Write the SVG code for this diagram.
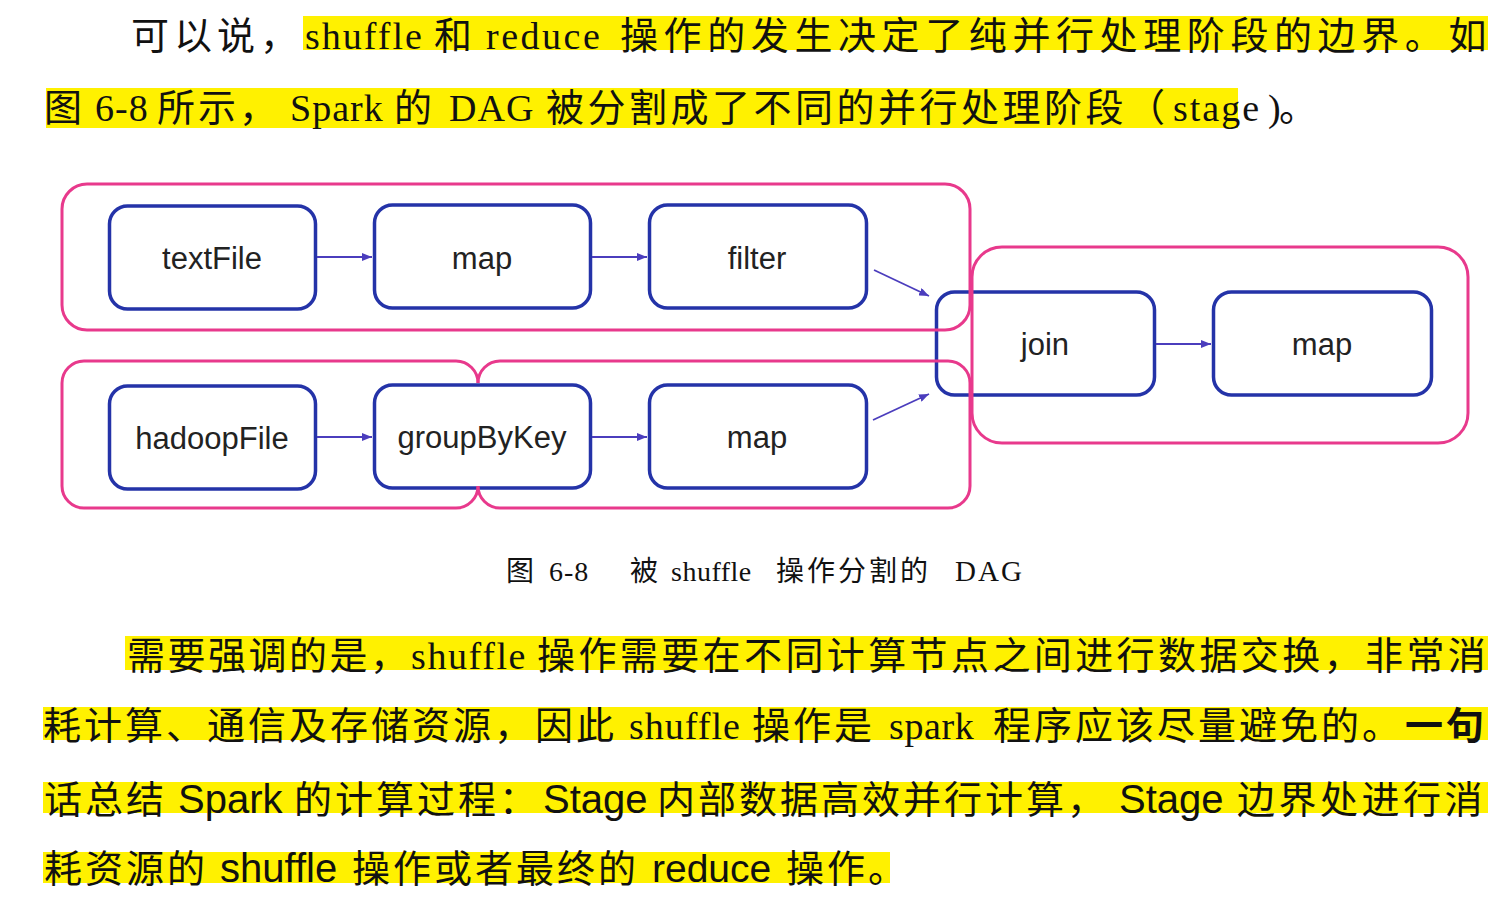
<svg xmlns="http://www.w3.org/2000/svg" width="1506" height="904" viewBox="0 0 1506 904">
<defs>
<style>
.hl{fill:#fff100}
.serif{font-family:'Liberation Serif','Noto Sans CJK SC',serif;font-size:38px;fill:#111}
.sans{font-family:'Liberation Sans','Noto Sans CJK SC',sans-serif;font-size:38px;fill:#111}
.node rect{fill:#fff;stroke:#2433a8;stroke-width:3.5}
.node text{font-family:'Liberation Sans','Noto Sans',sans-serif;font-size:31px;fill:#222;text-anchor:middle}
.stage{fill:none;stroke:#e8398c;stroke-width:3}
.conn line{stroke:#4b3dbd;stroke-width:1.8;marker-end:url(#ah)}
.l3{letter-spacing:3px}
</style>
<marker id="ah" markerUnits="userSpaceOnUse" markerWidth="11" markerHeight="8" refX="10" refY="4" orient="auto">
<path d="M0,0 L10,4 L0,8 z" fill="#4b3dbd"/>
</marker>
</defs>
<rect width="1506" height="904" fill="#fff"/>
<g id="highlights">
<rect class="hl" x="303" y="16" width="1185" height="34"/>
<rect class="hl" x="46" y="88" width="1192" height="40"/>
<rect class="hl" x="125" y="636" width="1363" height="34"/>
<rect class="hl" x="43" y="707" width="1445" height="33"/>
<rect class="hl" x="43" y="782" width="1445" height="31"/>
<rect class="hl" x="43" y="852" width="847" height="31"/>
</g>
<g id="paragraph-top">
<text class="serif" y="49"><tspan x="131" style="letter-spacing:5px">可以说，</tspan><tspan x="305" style="letter-spacing:2px">shuffle</tspan><tspan x="434">和</tspan><tspan x="486" style="letter-spacing:2.5px">reduce</tspan><tspan x="620" style="letter-spacing:5.6px">操作的发生决定了纯并行处理阶段的边界。如</tspan></text>
<text class="serif" y="121"><tspan x="44">图</tspan><tspan x="95" style="letter-spacing:1px">6-8</tspan><tspan x="157" class="l3">所示，</tspan><tspan x="290" style="letter-spacing:1px">Spark</tspan><tspan x="394">的</tspan><tspan x="449" style="letter-spacing:1px">DAG</tspan><tspan x="546" style="letter-spacing:3.5px">被分割成了不同的并行处理阶段</tspan><tspan x="1127">（</tspan><tspan x="1173" style="letter-spacing:2px">stage</tspan><tspan x="1268">)</tspan><tspan x="1279">。</tspan></text>
</g>
<g id="stage-nodes">
<g id="node-textFile" class="node"><rect x="109.5" y="206" width="206" height="103" rx="18"/><text x="212" y="269">textFile</text></g>
<g id="node-map1" class="node"><rect x="374.5" y="205" width="216" height="103" rx="18"/><text x="482" y="269">map</text></g>
<g id="node-filter" class="node"><rect x="649.5" y="205" width="217" height="103" rx="18"/><text x="757" y="269">filter</text></g>
<g id="node-hadoopFile" class="node"><rect x="109.5" y="386" width="206" height="103" rx="18"/><text x="212" y="449">hadoopFile</text></g>
<g id="node-groupByKey" class="node"><rect x="374.5" y="385" width="216" height="103" rx="18"/><text x="482" y="448">groupByKey</text></g>
<g id="node-map3" class="node"><rect x="649.5" y="385" width="217" height="103" rx="18"/><text x="757" y="448">map</text></g>
<g id="node-join" class="node"><rect x="936.5" y="292" width="218" height="103" rx="18"/><text x="1045" y="355">join</text></g>
<g id="node-map2" class="node"><rect x="1213.5" y="292" width="218" height="103" rx="18"/><text x="1322" y="355">map</text></g>
</g>
<g id="stages">
<rect id="stage-top" class="stage" x="62" y="184" width="908" height="146" rx="25"/>
<path id="stage-bottom-left" class="stage" d="M478,383 A22,22 0 0 0 456,361 H84 A22,22 0 0 0 62,383 V486 A22,22 0 0 0 84,508 H456 A22,22 0 0 0 478,486"/>
<path id="stage-bottom-right" class="stage" d="M478,383 A22,22 0 0 1 500,361 H948 A22,22 0 0 1 970,383 V486 A22,22 0 0 1 948,508 H500 A22,22 0 0 1 478,486"/>
<rect id="stage-right" class="stage" x="972" y="247" width="496" height="196" rx="30"/>
</g>
<g id="connectors" class="conn">
<line x1="317" y1="257" x2="372" y2="257"/>
<line x1="592" y1="257" x2="647" y2="257"/>
<line x1="317" y1="437" x2="372" y2="437"/>
<line x1="592" y1="437" x2="647" y2="437"/>
<line x1="1156" y1="344" x2="1211" y2="344"/>
<line x1="874" y1="270" x2="929" y2="296"/>
<line x1="873" y1="420" x2="929" y2="394"/>
</g>
<g id="caption">
<text class="serif" y="581" style="font-size:28px"><tspan x="506">图</tspan><tspan x="549" style="letter-spacing:1px">6-8</tspan><tspan x="630">被</tspan><tspan x="671" style="letter-spacing:0.5px">shuffle</tspan><tspan x="776" style="letter-spacing:3px">操作分割的</tspan><tspan x="955" style="letter-spacing:2px;font-size:29px">DAG</tspan></text>
</g>
<g id="paragraph-bottom">
<text class="serif" y="669"><tspan x="127" style="letter-spacing:2.5px">需要强调的是，</tspan><tspan x="411" style="letter-spacing:1.6px">shuffle</tspan><tspan x="537" style="letter-spacing:3.4px">操作需要在不同计算节点之间进行数据交换，非常消</tspan></text>
<text class="serif" y="739"><tspan x="43" class="l3">耗计算、通信及存储资源，因此</tspan><tspan x="629" style="letter-spacing:1px">shuffle</tspan><tspan x="752" class="l3">操作是</tspan><tspan x="889" style="letter-spacing:0.6px">spark</tspan><tspan x="993" class="l3">程序应该尽量避免的。</tspan><tspan x="1405" class="l3" style="font-family:'Noto Sans CJK SC',sans-serif;font-weight:700">一句</tspan></text>
<text class="sans" y="813"><tspan x="44" class="l3">话总结</tspan><tspan x="178" style="font-size:40px">Spark</tspan><tspan x="294" class="l3">的计算过程：</tspan><tspan x="543" style="font-size:40px">Stage</tspan><tspan x="657" class="l3">内部数据高效并行计算，</tspan><tspan x="1119" style="font-size:40px">Stage</tspan><tspan x="1237" style="letter-spacing:3.5px">边界处进行消</tspan></text>
<text class="sans" y="882"><tspan x="44" class="l3">耗资源的</tspan><tspan x="220" style="font-size:40px">shuffle</tspan><tspan x="352" class="l3">操作或者最终的</tspan><tspan x="652" style="font-size:39px">reduce</tspan><tspan x="786" class="l3">操作。</tspan></text>
</g>
</svg>
